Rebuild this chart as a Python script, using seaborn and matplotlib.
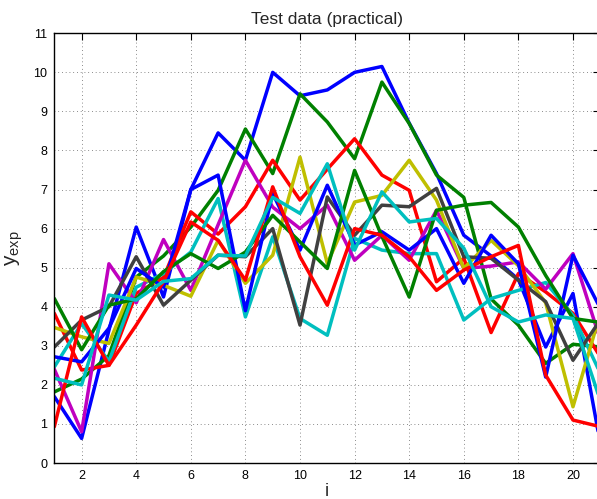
import numpy as np
import pandas as pd
import matplotlib
matplotlib.use("Agg")
import matplotlib.pyplot as plt
import seaborn as sns

# sample index
i_vals = list(range(1, 22))

# experimental curves (drawn in this order)
blue_1 = [1.70, 0.63, 3.40, 6.04, 4.25, 7.00, 8.45, 7.75, 10.00, 9.40, 9.55,
          10.00, 10.15, 8.70, 7.41, 5.83, 5.30, 4.70, 2.97, 4.34, 0.50]
green_1 = [1.82, 2.15, 2.75, 4.76, 5.30, 6.04, 6.98, 8.55, 7.41, 9.45, 8.73,
           7.79, 9.75, 8.69, 7.37, 6.80, 4.20, 3.53, 2.55, 3.04, 2.97]
red_1 = [3.83, 2.38, 2.50, 4.34, 4.75, 6.43, 5.86, 6.56, 7.75, 6.73, 7.52,
         8.30, 7.37, 6.98, 4.64, 5.24, 3.34, 4.85, 4.38, 3.83, 2.72]
cyan_1 = [2.46, 3.57, 2.60, 4.50, 4.85, 5.40, 6.77, 3.74, 5.79, 3.70, 3.27,
          5.75, 5.45, 5.36, 5.36, 3.66, 4.21, 4.42, 4.62, 3.78, 2.30]
magenta_1 = [2.40, 0.80, 5.10, 4.10, 5.72, 4.42, 6.10, 7.75, 6.55, 6.00, 6.60,
             5.19, 5.83, 5.19, 6.47, 4.98, 5.04, 5.15, 4.45, 5.36, 3.15]
yellow_1 = [3.47, 3.23, 3.06, 4.76, 4.55, 4.27, 5.70, 4.60, 5.32, 7.83, 5.11,
            6.68, 6.85, 7.75, 6.73, 4.98, 5.70, 5.05, 4.10, 1.44, 3.83]
gray_1 = [2.97, 3.66, 4.00, 5.28, 4.04, 4.68, 5.32, 5.28, 6.00, 3.53, 6.81,
          5.83, 6.60, 6.56, 7.03, 5.28, 5.24, 4.68, 4.13, 2.63, 3.66]
blue_2 = [2.72, 2.59, 3.45, 4.98, 4.50, 7.00, 7.37, 3.90, 6.90, 5.45, 7.11,
          5.58, 5.92, 5.45, 6.00, 4.60, 5.83, 5.10, 2.20, 5.32, 3.96]
green_2 = [4.21, 2.90, 4.04, 4.20, 4.90, 5.36, 4.98, 5.40, 6.34, 5.66, 4.98,
           7.49, 5.80, 4.25, 6.47, 6.60, 6.67, 6.04, 4.80, 3.70, 3.60]
red_2 = [0.93, 3.74, 2.50, 3.53, 4.64, 6.17, 5.70, 4.68, 7.07, 5.28, 4.04,
         6.00, 5.83, 5.28, 4.42, 4.94, 5.28, 5.57, 2.25, 1.10, 0.93]
cyan_2 = [2.17, 2.00, 4.30, 4.17, 4.65, 4.72, 5.32, 5.30, 6.80, 6.39, 7.66,
          5.45, 6.94, 6.17, 6.26, 5.50, 4.00, 3.61, 3.79, 3.70, 1.60]

series = [blue_1, green_1, red_1, cyan_1, magenta_1, yellow_1, gray_1,
          blue_2, green_2, red_2, cyan_2]
colors = ["#0000ff", "#008000", "#ff0000", "#00bfbf", "#bf00bf", "#bfbf00",
          "#404040", "#0000ff", "#008000", "#ff0000", "#00bfbf"]

rows = []
for k, ys in enumerate(series):
    for x, y in zip(i_vals, ys):
        rows.append({"i": x, "y": y, "run": f"run{k + 1}"})
df = pd.DataFrame(rows)

sns.set_style("white")
plt.rcParams["font.family"] = ["Liberation Sans", "DejaVu Sans"]
plt.rcParams["mathtext.fontset"] = "custom"
plt.rcParams["mathtext.rm"] = "Liberation Sans"

fig = plt.figure(figsize=(5.97, 4.99), dpi=100)
ax = fig.add_axes([0.091, 0.0721, 0.9145, 0.8612])

hue_order = [f"run{k + 1}" for k in range(len(series))]
sns.lineplot(data=df, x="i", y="y", hue="run", hue_order=hue_order,
             palette=colors, estimator=None, sort=False, linewidth=2.5,
             legend=False, ax=ax)

ax.set_xlim(1, 21)
ax.set_ylim(0, 11)
ax.set_xticks(range(2, 21, 2))
ax.set_yticks(range(0, 12))
ax.grid(True, color="#666666", linestyle=(0, (1, 3.5)), linewidth=0.6)
ax.set_axisbelow(True)
for s in ax.spines.values():
    s.set_color("black")
    s.set_linewidth(1.0)
ax.tick_params(direction="in", length=5, width=0.8, top=True, right=True,
               labelsize=9, colors="black", pad=5)

ax.set_title("Test data (practical)", fontsize=12.5, pad=7)
ax.set_xlabel("i", fontsize=13, labelpad=1)
ax.set_ylabel(r"$\mathregular{y_{exp}}$", fontsize=15, labelpad=6)

fig.savefig("out.png", dpi=100)
